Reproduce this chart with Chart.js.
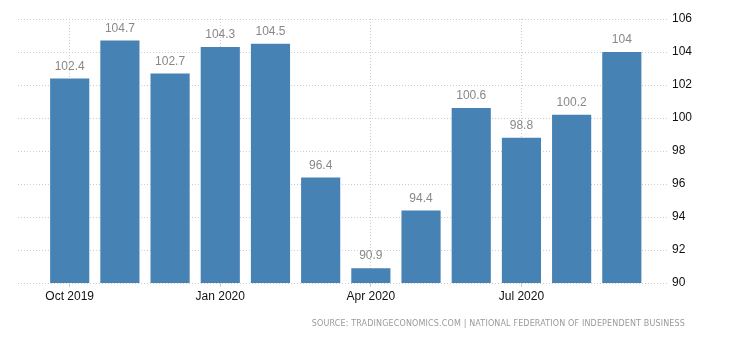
<!DOCTYPE html>
<html>
<head>
<meta charset="utf-8">
<script src="https://cdn.jsdelivr.net/npm/chart.js@4/dist/chart.umd.min.js"></script>
<style>
  body { margin: 0; background: #fff; }
  #wrap { position: relative; width: 730px; height: 340px; }
  #source {
    position: absolute; right: 45px; top: 319px;
    font: 8px "DejaVu Sans", sans-serif; letter-spacing: 0.15px;
    color: #9a9a9a; white-space: nowrap;
  }
</style>
</head>
<body>
<div id="wrap">
  <canvas id="optimism" width="730" height="340"></canvas>
  <div id="source">SOURCE: TRADINGECONOMICS.COM | NATIONAL FEDERATION OF INDEPENDENT BUSINESS</div>
</div>
<script>
// NFIB small business optimism index, monthly
const MONTHS = ["Oct 2019", "Nov 2019", "Dec 2019", "Jan 2020", "Feb 2020", "Mar 2020",
  "Apr 2020", "May 2020", "Jun 2020", "Jul 2020", "Aug 2020", "Sep 2020"];
const VALUES = [102.4, 104.7, 102.7, 104.3, 104.5, 96.4, 90.9, 94.4, 100.6, 98.8, 100.2, 104];
const LABELED_MONTHS = [0, 3, 6, 9]; // which months get an axis label
const Y_MIN = 90, Y_MAX = 106, Y_STEP = 2;

// writes the value over each bar
const valueLabels = {
  id: 'valueLabels',
  afterDatasetsDraw(chart) {
    const ctx = chart.ctx;
    const meta = chart.getDatasetMeta(0);
    ctx.save();
    ctx.font = '12px "Liberation Sans", Arial, sans-serif';
    ctx.fillStyle = '#888888';
    ctx.textAlign = 'center';
    ctx.textBaseline = 'bottom';
    meta.data.forEach((bar, i) => {
      ctx.fillText(String(VALUES[i]), bar.x, bar.y - 6);
    });
    ctx.restore();
  }
};

const points = VALUES.map((v, i) => ({ x: i, y: v }));

const config = {
  type: 'bar',
  data: {
    datasets: [{
      data: points,
      backgroundColor: '#4682b4',
      barPercentage: 0.78,
      categoryPercentage: 1.0
    }]
  },
  options: {
    responsive: false,
    animation: false,
    layout: { padding: { top: 19, left: 18, right: 0, bottom: 27 } },
    plugins: {
      legend: { display: false },
      tooltip: { enabled: false }
    },
    scales: {
      x: {
        type: 'linear',
        offset: false,
        min: -1.03,
        max: 11.92,
        afterBuildTicks(scale) {
          scale.ticks = LABELED_MONTHS.map(v => ({ value: v }));
        },
        afterFit(scale) { scale.height = 30; },
        ticks: {
          callback: v => MONTHS[v],
          color: '#111',
          font: { family: '"Liberation Sans", Arial, sans-serif', size: 12 },
          maxRotation: 0,
          padding: 2
        },
        grid: {
          offset: false,
          color: '#cccccc',
          tickColor: '#cccccc',
          tickLength: 4
        },
        border: { display: false, dash: [1, 2] }
      },
      y: {
        position: 'right',
        min: Y_MIN,
        max: Y_MAX,
        afterFit(scale) { scale.width = 62; },
        ticks: {
          stepSize: Y_STEP,
          color: '#111',
          font: { family: '"Liberation Sans", Arial, sans-serif', size: 12 },
          padding: 4
        },
        grid: {
          color: '#cccccc',
          drawTicks: false
        },
        border: { display: false, dash: [1, 2] }
      }
    }
  },
  plugins: [valueLabels]
};

new Chart(document.getElementById('optimism').getContext('2d'), config);
</script>
</body>
</html>
